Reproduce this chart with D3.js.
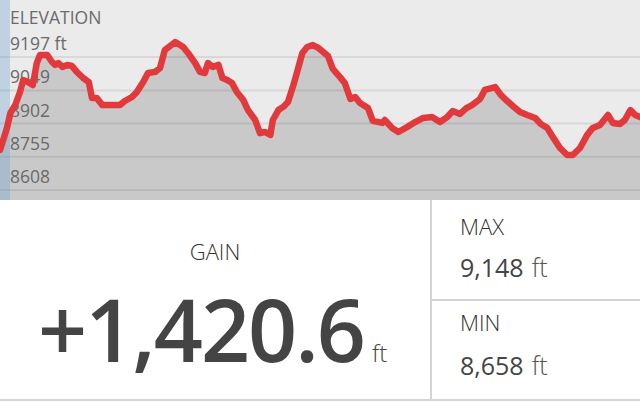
<!DOCTYPE html>
<html>
<head>
<meta charset="utf-8">
<script src="https://cdn.jsdelivr.net/npm/d3@7"></script>
<style>
  body { margin: 0; background: #fff; }
  text { font-family: "Open Sans", sans-serif; }
</style>
</head>
<body>
<svg id="chart" width="640" height="402"></svg>
<script>
// distance along the trail (mi) and elevation (ft)
var distance = [0,0.04,0.09,0.13,0.19,0.25,0.29,0.35,0.41,0.46,
  0.50,0.59,0.65,0.69,0.73,0.78,0.84,0.90,0.96,1.04,
  1.11,1.15,1.21,1.28,1.35,1.44,1.50,1.56,1.65,1.71,
  1.79,1.85,1.94,2.00,2.06,2.19,2.29,2.35,2.44,2.50,
  2.56,2.60,2.66,2.73,2.78,2.84,2.90,2.96,3.04,3.10,
  3.19,3.25,3.31,3.38,3.41,3.48,3.54,3.60,3.66,3.71,
  3.78,3.84,3.91,3.98,4.10,4.16,4.25,4.31,4.38,4.44,
  4.50,4.60,4.66,4.78,4.81,4.90,4.98,5.09,5.19,5.29,
  5.40,5.50,5.59,5.66,5.75,5.83,5.90,6.00,6.06,6.19,
  6.26,6.34,6.41,6.50,6.59,6.69,6.76,6.84,6.91,7.00,
  7.09,7.16,7.25,7.34,7.41,7.50,7.60,7.66,7.75,7.81,
  7.88,7.94,8.00];

var elevation = [8785,8829,8887,8949,8984,9042,9095,9086,9073,9170,
  9206,9206,9175,9162,9170,9153,9162,9157,9131,9104,
  9086,9015,9015,8984,8984,8984,8984,9002,9020,9042,
  9086,9126,9131,9148,9228,9263,9241,9215,9170,9131,
  9126,9170,9153,9162,9104,9095,9082,9042,9007,8962,
  8918,8860,8865,8852,8918,8962,8976,8998,9064,9126,
  9215,9241,9250,9237,9201,9144,9108,9082,9011,9020,
  8993,8971,8914,8905,8918,8883,8865,8887,8909,8927,
  8931,8909,8931,8958,8945,8971,8984,9011,9051,9064,
  9029,9002,8980,8953,8940,8927,8900,8883,8843,8794,
  8763,8763,8794,8852,8883,8896,8940,8905,8900,8918,
  8962,8940,8931];

var yTicks = [9197, 9049, 8902, 8755, 8608];

var gainText = "+1,420.6";
var maxText = "9,148";
var minText = "8,658";

var width = 640, chartHeight = 200;

var svg = d3.select("#chart");

var x = d3.scaleLinear().domain([0, 8]).range([0, width]);
var y = d3.scaleLinear().domain([8608, 9197]).range([190, 57]);

var data = distance.map(function(d, i){ return {d: d, e: elevation[i]}; });

// fond du graphique
svg.append("rect")
   .attr("width", width).attr("height", chartHeight)
   .attr("fill", "#ebebeb");

var area = d3.area()
   .x(function(d){ return x(d.d); })
   .y0(chartHeight)
   .y1(function(d){ return y(d.e); });

svg.append("path")
   .datum(data)
   .attr("d", area)
   .attr("fill", "#c9c9c9");

// lignes horizontales
svg.selectAll(".grid")
   .data(yTicks)
   .enter()
   .append("line")
   .attr("class", "grid")
   .attr("x1", 0).attr("x2", width)
   .attr("y1", function(d){ return y(d); })
   .attr("y2", function(d){ return y(d); })
   .attr("stroke", "#000")
   .attr("stroke-opacity", 0.08)
   .attr("stroke-width", 2);

// bande bleue a gauche
svg.append("rect")
   .attr("x", 0).attr("y", 0)
   .attr("width", 10).attr("height", chartHeight)
   .attr("fill", "#6fa3d0")
   .attr("fill-opacity", 0.35);

svg.append("text")
   .attr("x", 10).attr("y", 24)
   .attr("font-size", 17.5)
   .attr("fill", "#6a6a6a")
   .text("ELEVATION");

svg.selectAll(".ylab")
   .data(yTicks)
   .enter()
   .append("text")
   .attr("class", "ylab")
   .attr("x", 10)
   .attr("y", function(d){ return y(d) - 7; })
   .attr("font-size", 17.5)
   .attr("fill", "#6a6a6a")
   .text(function(d, i){ return i == 0 ? d + " ft" : d; });

var line = d3.line()
   .x(function(d){ return x(d.d); })
   .y(function(d){ return y(d.e); });

svg.append("path")
   .datum(data)
   .attr("d", line)
   .attr("fill", "none")
   .attr("stroke", "#e23a3c")
   .attr("stroke-width", 6.5)
   .attr("stroke-linejoin", "round")
   .attr("stroke-linecap", "round");

// panneau du bas
svg.append("line")
   .attr("x1", 431).attr("x2", 431).attr("y1", 200).attr("y2", 400)
   .attr("stroke", "#d4d4d4").attr("stroke-width", 2);
svg.append("line")
   .attr("x1", 431).attr("x2", width).attr("y1", 300).attr("y2", 300)
   .attr("stroke", "#d4d4d4").attr("stroke-width", 2);
svg.append("line")
   .attr("x1", 0).attr("x2", width).attr("y1", 400).attr("y2", 400)
   .attr("stroke", "#d4d4d4").attr("stroke-width", 2);

svg.append("text")
   .attr("x", 215).attr("y", 260)
   .attr("text-anchor", "middle")
   .attr("font-size", 22).attr("font-weight", 300)
   .attr("fill", "#333")
   .text("GAIN");

var gain = svg.append("text")
   .attr("x", 38).attr("y", 362)
   .attr("fill", "#444");
gain.append("tspan")
   .attr("font-size", 86).attr("font-weight", 600)
   .attr("letter-spacing", -2)
   .text(gainText);
gain.append("tspan")
   .attr("dx", 8)
   .attr("font-size", 24).attr("font-weight", 300)
   .text("ft");

svg.append("text")
   .attr("x", 460).attr("y", 235)
   .attr("font-size", 22).attr("font-weight", 300)
   .attr("fill", "#333")
   .text("MAX");

svg.append("text")
   .attr("x", 460).attr("y", 331)
   .attr("font-size", 22).attr("font-weight", 300)
   .attr("fill", "#333")
   .text("MIN");

[[maxText, 277], [minText, 375]].forEach(function(v){
    var t = svg.append("text")
       .attr("x", 460).attr("y", v[1])
       .attr("font-size", 25);
    t.append("tspan").attr("font-weight", 500).attr("fill", "#444")
     .text(v[0]);
    t.append("tspan").attr("font-weight", 300).attr("fill", "#555")
     .attr("dx", 8).text("ft");
});
</script>
</body>
</html>
